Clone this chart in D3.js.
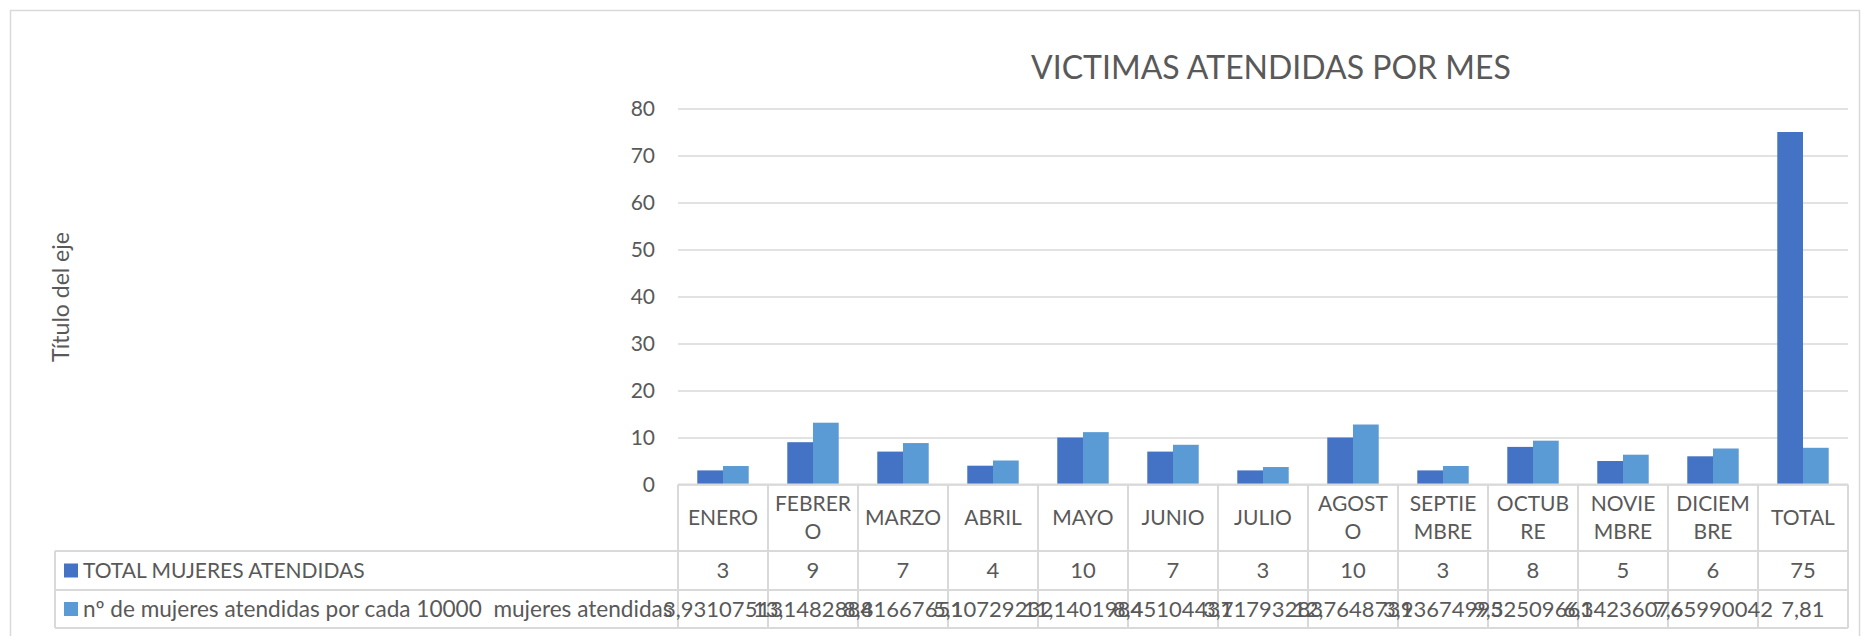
<!DOCTYPE html>
<html>
<head>
<meta charset="utf-8">
<script src="https://cdn.jsdelivr.net/npm/d3@7/dist/d3.min.js"></script>
<style>
    body { margin: 0; background: #fff; }
    svg text { font-family: Lato, "Open Sans", sans-serif; fill: #595959; }
</style>
</head>
<body>
<svg id="chart"></svg>
<script>
(function() {

    // Categories (months + total) and how Excel wraps them in the table header.
    const categories = ['ENERO', 'FEBRERO', 'MARZO', 'ABRIL', 'MAYO', 'JUNIO', 'JULIO', 'AGOSTO',
        'SEPTIEMBRE', 'OCTUBRE', 'NOVIEMBRE', 'DICIEMBRE', 'TOTAL'];
    const categoryLines = [['ENERO'], ['FEBRER', 'O'], ['MARZO'], ['ABRIL'], ['MAYO'], ['JUNIO'], ['JULIO'],
        ['AGOST', 'O'], ['SEPTIE', 'MBRE'], ['OCTUB', 'RE'], ['NOVIE', 'MBRE'], ['DICIEM', 'BRE'], ['TOTAL']];

    const seriesNames = ['TOTAL MUJERES ATENDIDAS', 'nº de mujeres atendidas por cada 10000  mujeres atendidas'];
    const seriesColors = ['#4472C4', '#5B9BD5'];

    const totalMujeres = [3, 9, 7, 4, 10, 7, 3, 10, 3, 8, 5, 6, 75];
    const porCada10000 = [3.93107513, 13.1482884, 8.81667651, 5.10729232, 11.1401984, 8.45104431, 3.71793283,
        12.7648731, 3.93674995, 9.32509661, 6.34236076, 7.65990042, 7.81];

    const yTicks = [0, 10, 20, 30, 40, 50, 60, 70, 80];

    const title = 'VICTIMAS ATENDIDAS POR MES';
    const yTitle = 'Título del eje';

    const w = 1863;
    const h = 636;

    // Plot area and data table
    const plotLeft = 678;
    const plotRight = 1848;
    const plotTop = 108.5;
    const plotBottom = 484.5;
    const tableLeft = 55;
    const rowLines = [plotBottom, 551, 590, 628];
    const gridColor = '#d9d9d9';

    const series = [totalMujeres, porCada10000];
    const legendSizes = ['21px', '22.6px'];

    // Scale X
    const scaleX = d3.scaleBand().domain(categories).range([plotLeft, plotRight]);
    const bw = scaleX.bandwidth() / 3.5; // gap width 150%
    const scaleSeries = d3.scaleBand().domain([0, 1]).range([bw * 0.75, bw * 2.75]);

    // Scale Y
    const scaleY = d3.scaleLinear().domain([0, 80]).range([plotBottom, plotTop]);

    const svg = d3.select('#chart')
        .attr('width', w)
        .attr('height', h);

    // Chart border
    svg.append('rect')
        .attr('x', 10.5).attr('y', 10.5)
        .attr('width', 1849).attr('height', 660)
        .attr('fill', 'none')
        .attr('stroke', gridColor)
        .attr('stroke-width', 1.5);

    // Title
    svg.append('text')
        .attr('x', 1271)
        .attr('y', 79)
        .attr('text-anchor', 'middle')
        .style('font-size', '32px')
        .text(title);

    // Y axis title
    svg.append('text')
        .attr('transform', 'translate(69, 297) rotate(-90)')
        .attr('text-anchor', 'middle')
        .style('font-size', '23px')
        .text(yTitle);

    // Y axis with gridlines
    const yAxis = d3.axisLeft(scaleY)
        .tickValues(yTicks)
        .tickSize(-(plotRight - plotLeft))
        .tickPadding(23);

    const yG = svg.append('g')
        .attr('id', 'y-axis')
        .attr('transform', `translate(${plotLeft}, 0)`)
        .call(yAxis);
    yG.select('.domain').remove();
    yG.selectAll('line').attr('stroke', gridColor).attr('stroke-width', 1.5);
    yG.selectAll('text')
        .attr('fill', '#595959')
        .style('font-family', 'Lato, "Open Sans", sans-serif')
        .style('font-size', '21px');

    // Bars
    const bars = svg.append('g').attr('id', 'bars');
    series.forEach((values, si) => {
        bars.selectAll(`.bar-${si}`)
            .data(values)
            .enter()
            .append('rect')
            .attr('class', `bar-${si}`)
            .attr('x', (d, i) => scaleX(categories[i]) + scaleSeries(si))
            .attr('y', d => scaleY(d))
            .attr('width', scaleSeries.bandwidth())
            .attr('height', d => scaleY(0) - scaleY(d))
            .attr('fill', seriesColors[si]);
    });

    // Data table
    const table = svg.append('g').attr('id', 'table');

    rowLines.forEach((y, i) => {
        table.append('line')
            .attr('x1', i === 0 ? plotLeft : tableLeft)
            .attr('x2', plotRight)
            .attr('y1', y).attr('y2', y)
            .attr('stroke', gridColor)
            .attr('stroke-width', 2);
    });

    const colEdges = categories.map(c => scaleX(c)).concat([plotRight]);
    table.selectAll('.col-line')
        .data(colEdges)
        .enter()
        .append('line')
        .attr('class', 'col-line')
        .attr('x1', d => d).attr('x2', d => d)
        .attr('y1', plotBottom).attr('y2', rowLines[3])
        .attr('stroke', gridColor)
        .attr('stroke-width', 2);

    table.append('line')
        .attr('x1', tableLeft).attr('x2', tableLeft)
        .attr('y1', rowLines[1]).attr('y2', rowLines[3])
        .attr('stroke', gridColor)
        .attr('stroke-width', 2);

    // Category labels
    const headerMid = (rowLines[0] + rowLines[1]) / 2;
    categories.forEach((c, i) => {
        const lines = categoryLines[i];
        const t = table.append('text')
            .attr('text-anchor', 'middle')
            .style('font-size', '21px');
        lines.forEach((line, li) => {
            t.append('tspan')
                .attr('x', scaleX(c) + scaleX.bandwidth() / 2)
                .attr('y', headerMid + (li - (lines.length - 1) / 2) * 28)
                .attr('dy', '0.36em')
                .text(line);
        });
    });

    // Rows: legend key + values
    series.forEach((values, si) => {
        const mid = (rowLines[si + 1] + rowLines[si + 2]) / 2;

        table.append('rect')
            .attr('x', 64).attr('y', mid - 7)
            .attr('width', 14).attr('height', 14)
            .attr('fill', seriesColors[si]);

        table.append('text')
            .attr('x', 83).attr('y', mid)
            .attr('dy', '0.36em')
            .style('font-size', legendSizes[si])
            .style('white-space', 'pre')
            .text(seriesNames[si]);

        table.selectAll(`.val-${si}`)
            .data(values)
            .enter()
            .append('text')
            .attr('class', `val-${si}`)
            .attr('x', (d, i) => scaleX(categories[i]) + scaleX.bandwidth() / 2)
            .attr('y', mid)
            .attr('dy', '0.36em')
            .attr('text-anchor', 'middle')
            .style('font-size', '22px')
            .text(d => String(d).replace('.', ','));
    });

})();
</script>
</body>
</html>
